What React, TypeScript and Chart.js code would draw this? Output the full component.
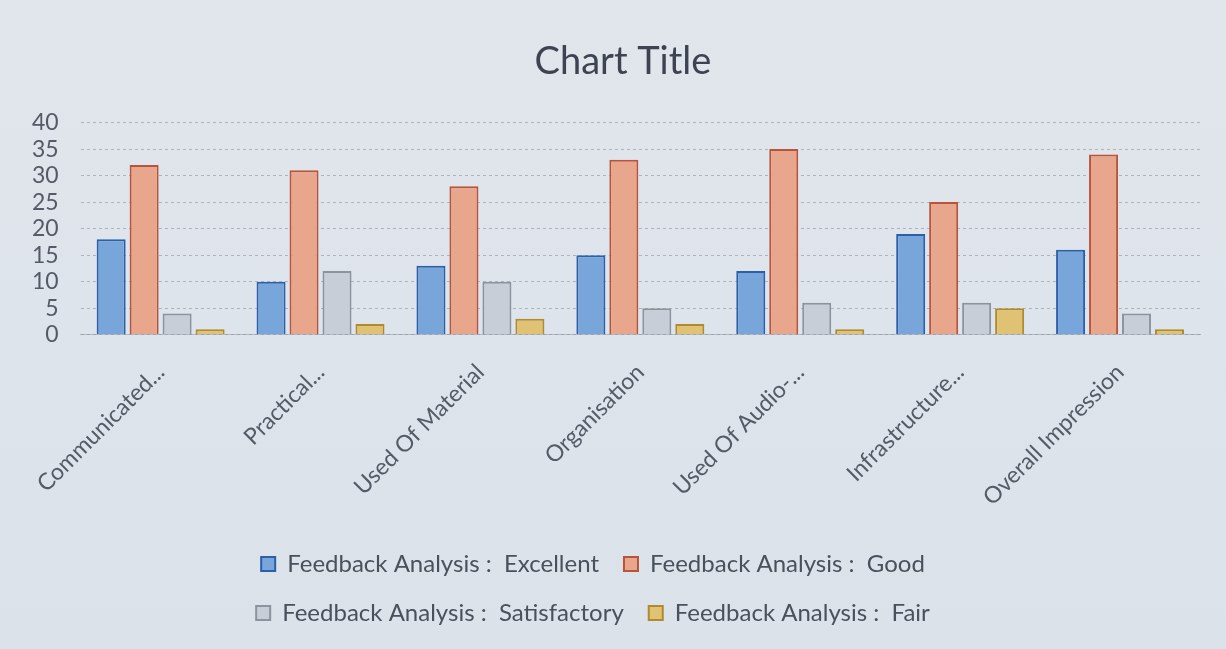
import React, { useEffect, useRef } from "react";
import { Chart, registerables } from "chart.js";

Chart.register(...registerables);

const categories = [
  "Communicated...",
  "Practical...",
  "Used Of Material",
  "Organisation",
  "Used Of Audio-...",
  "Infrastructure...",
  "Overall Impression",
];
const seriesNames = [
  "Feedback Analysis :  Excellent",
  "Feedback Analysis :  Good",
  "Feedback Analysis :  Satisfactory",
  "Feedback Analysis :  Fair",
];
const excellent = [18, 10, 13, 15, 12, 19, 16];
const good = [32, 31, 28, 33, 35, 25, 34];
const satisfactory = [4, 12, 10, 5, 6, 6, 4];
const fair = [1, 2, 3, 2, 1, 5, 1];
const yTicks = [0, 5, 10, 15, 20, 25, 30, 35, 40];

const fills = ["#79a6da", "#e8a68c", "#c8ced7", "#e0c274"];
const borders = ["#2c5ea9", "#b9543b", "#8c939e", "#b08a2c"];

const FONT = "Lato, 'Open Sans', sans-serif";

const legendWrap = {
  id: "legendWrap",
  afterInit(chart: any) {
    const legend = chart.legend;
    if (!legend) return;
    const origFit = legend.fit.bind(legend);
    legend.fit = function () {
      const mw = this.maxWidth;
      this.maxWidth = 780;
      origFit();
      this.maxWidth = mw;
      this.width = mw;
    };
  },
  afterLayout(chart: any) {
    const legend = chart.legend;
    if (legend) {
      legend.left -= 12;
      legend.right -= 12;
    }
    const title = chart.titleBlock;
    if (title) {
      title.left += 18;
      title.right += 18;
    }
  },
};

export default function App() {
  const ref = useRef<HTMLCanvasElement>(null);
  useEffect(() => {
    document.body.style.margin = "0";
    const seriesData = [excellent, good, satisfactory, fair];
    const chart = new Chart(ref.current!, {
      type: "bar",
      data: {
        labels: categories,
        datasets: seriesNames.map((name, i) => ({
          label: name,
          data: seriesData[i],
          backgroundColor: fills[i],
          borderColor: borders[i],
          borderWidth: 2,
          barPercentage: 0.88,
          categoryPercentage: 0.825,
        })),
      },
      options: {
        animation: false,
        responsive: false,
        layout: { padding: { left: 10, right: 26, top: 0, bottom: 14 } },
        plugins: {
          title: {
            display: true,
            text: "Chart Title",
            color: "#3d4350",
            font: { family: FONT, size: 38, weight: "normal" },
            padding: { top: 39, bottom: 38 },
          },
          legend: {
            position: "bottom",
            labels: {
              color: "#4a505c",
              font: { family: FONT, size: 24 },
              boxWidth: 14,
              boxHeight: 14,
              padding: 25,
            },
          },
          tooltip: { enabled: false },
        },
        scales: {
          x: {
            grid: { display: false },
            border: { display: true, color: "rgba(150,155,165,0.6)" },
            ticks: {
              color: "#555b66",
              font: { family: FONT, size: 23 },
              minRotation: 45,
              maxRotation: 45,
              padding: 16,
              autoSkip: false,
            },
          },
          y: {
            min: 0,
            max: 40,
            afterBuildTicks(scale: any) {
              scale.ticks = yTicks.map((v) => ({ value: v }));
            },
            grid: {
              color: "rgba(115,120,130,0.45)",
              drawTicks: false,
            },
            border: { display: false, dash: [3, 3] },
            ticks: {
              color: "#555b66",
              font: { family: FONT, size: 23 },
              padding: 22,
              autoSkip: false,
            },
          },
        },
      },
      plugins: [legendWrap],
    });
    return () => chart.destroy();
  }, []);
  return (
    <div style={{ width: 1226, height: 649, background: "linear-gradient(180deg, #e1e6ec 0%, #dbe2ea 100%)" }}>
      <canvas ref={ref} width={1226} height={649} />
    </div>
  );
}
